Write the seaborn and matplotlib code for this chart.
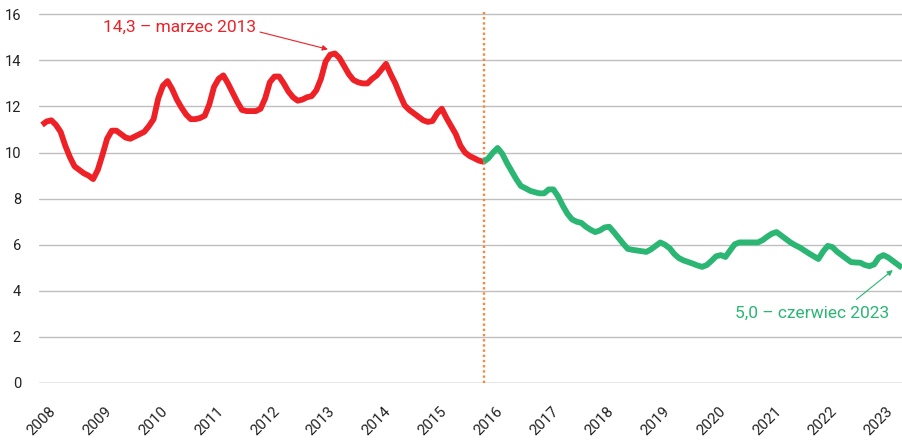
import numpy as np
import pandas as pd
import matplotlib
matplotlib.use("Agg")
import matplotlib.pyplot as plt
import seaborn as sns

# ---- data (monthly, Jan 2008 .. Jun 2023) ----
year_labels = [str(y) for y in range(2008, 2024)]

values_red = [
    11.2, 11.35, 11.4, 11.2, 10.9, 10.3, 9.8, 9.4, 9.25, 9.1, 9.0, 8.85,
    9.25, 9.9, 10.6, 10.95, 10.95, 10.8, 10.65, 10.6, 10.7, 10.8, 10.9, 11.15,
    11.45, 12.35, 12.9, 13.1, 12.75, 12.3, 11.95, 11.65, 11.45, 11.45, 11.5, 11.6,
    12.1, 12.85, 13.2, 13.35, 13.0, 12.6, 12.2, 11.85, 11.8, 11.8, 11.8, 11.9,
    12.35, 13.05, 13.3, 13.3, 13.0, 12.65, 12.4, 12.25, 12.3, 12.4, 12.45, 12.7,
    13.2, 13.95, 14.25, 14.3, 14.1, 13.75, 13.4, 13.15, 13.05, 13.0, 13.0, 13.2,
    13.35, 13.6, 13.85, 13.4, 13.0, 12.5, 12.05, 11.85, 11.7, 11.55, 11.4, 11.33,
    11.37, 11.7, 11.9, 11.5, 11.15, 10.8, 10.3, 10.0, 9.85, 9.75, 9.65, 9.6,
]

values_green = [
    9.6,
    9.75, 10.0, 10.2, 9.95, 9.55, 9.2, 8.85, 8.55, 8.45, 8.34, 8.28, 8.23,
    8.23, 8.4, 8.4, 8.1, 7.7, 7.35, 7.1, 7.0, 6.95, 6.78, 6.65, 6.55,
    6.62, 6.75, 6.78, 6.55, 6.3, 6.05, 5.82, 5.78, 5.75, 5.72, 5.69, 5.8,
    5.95, 6.1, 6.0, 5.85, 5.6, 5.42, 5.32, 5.25, 5.18, 5.1, 5.04, 5.12,
    5.3, 5.5, 5.55, 5.47, 5.75, 6.02, 6.1, 6.1, 6.1, 6.1, 6.1, 6.2,
    6.35, 6.48, 6.55, 6.4, 6.25, 6.1, 5.98, 5.88, 5.75, 5.62, 5.5, 5.38,
    5.7, 5.95, 5.9, 5.7, 5.55, 5.4, 5.25, 5.23, 5.22, 5.12, 5.07, 5.15,
    5.45, 5.55, 5.45, 5.3, 5.15, 5.0,
]

peak_label = "14,3 – marzec 2013"
last_label = "5,0 – czerwiec 2023"
y_ticks = [0, 2, 4, 6, 8, 10, 12, 14, 16]

RED = "#EE2127"
GREEN = "#2BB673"
ORANGE = "#F5883A"

# ---- frame ----
n_red = len(values_red)
idx_red = np.arange(n_red)
idx_green = np.arange(n_red - 1, n_red - 1 + len(values_green))
df = pd.concat([
    pd.DataFrame({"m": idx_red, "v": values_red, "okres": "a"}),
    pd.DataFrame({"m": idx_green, "v": values_green, "okres": "b"}),
], ignore_index=True)

sns.set_theme(style="white")
plt.rcParams["font.family"] = ["Roboto", "DejaVu Sans"]

fig = plt.figure(figsize=(9.03, 4.43), dpi=100)
ax = fig.add_axes([39 / 903, 60 / 443, 864 / 903, 371 / 443])

sns.lineplot(data=df, x="m", y="v", hue="okres", palette={"a": RED, "b": GREEN},
             linewidth=4.2, legend=False, ax=ax, sort=False)
for l in ax.lines:
    l.set_solid_capstyle("butt")
    l.set_solid_joinstyle("round")

ax.set_xlim(-0.65, 185.2)
ax.set_ylim(0, 16.1)

ax.set_yticks(y_ticks)
ax.set_yticklabels([str(t) for t in y_ticks], fontsize=10.5, color="#222222")
for t in y_ticks:
    ax.axhline(t, color="#8C8C8C" if t == 0 else "#BFBFBF", lw=1.0, zorder=0)

tick_pos = [12 * i + 1.5 for i in range(len(year_labels))]
ax.set_xticks(tick_pos)
ax.set_xticklabels(year_labels, rotation=45, ha="right", va="top",
                   rotation_mode="anchor", fontsize=10.8, color="#222222")
ax.tick_params(axis="x", length=0, pad=15)
ax.tick_params(axis="y", length=0, pad=13)

for s in ax.spines.values():
    s.set_visible(False)
ax.set_xlabel("")
ax.set_ylabel("")

# vertical dotted separator
ax.axvline(n_red - 1, color=ORANGE, lw=1.7, linestyle=(0, (1.0, 1.2)), zorder=1,
           ymin=0, ymax=1)

# annotations
peak_i = int(np.argmax(values_red))
ax.text(29.6, 15.44, peak_label, color=RED, fontsize=12.5, ha="center", va="center")
ax.annotate("", xy=(peak_i - 1.5, values_red[peak_i] + 0.18), xytext=(46.9, 15.23),
            arrowprops=dict(arrowstyle="-|>", color=RED, lw=0.8, mutation_scale=8,
                            shrinkA=0, shrinkB=0))

last_i = idx_green[-1]
ax.text(165.6, 3.04, last_label, color=GREEN, fontsize=12.5, ha="center", va="center")
ax.annotate("", xy=(last_i - 2.0, values_green[-1] - 0.1), xytext=(175.2, 3.63),
            arrowprops=dict(arrowstyle="-|>", color=GREEN, lw=0.8, mutation_scale=8,
                            shrinkA=0, shrinkB=0))

fig.savefig("out.png", dpi=100)
